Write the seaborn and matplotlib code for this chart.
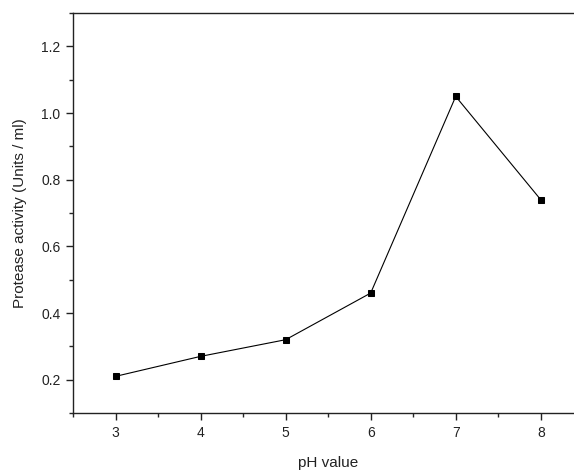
import matplotlib
matplotlib.use("Agg")
import matplotlib.pyplot as plt
import numpy as np
import pandas as pd
import seaborn as sns
from matplotlib.ticker import MultipleLocator

ph_values = [3, 4, 5, 6, 7, 8]
activity = [0.21, 0.27, 0.32, 0.46, 1.05, 0.74]

sns.set_style("ticks")
plt.rcParams["font.family"] = ["Liberation Sans", "DejaVu Sans"]

df = pd.DataFrame({"ph": ph_values, "activity": activity})

fig = plt.figure(figsize=(5.74, 4.71), dpi=100)
ax = fig.add_axes([0.1272, 0.1231, 0.889, 0.849])

sns.lineplot(data=df, x="ph", y="activity", ax=ax, color="black", linewidth=0.8,
             marker="s", markersize=5, markeredgecolor="black", markerfacecolor="black")

ax.set_xlim(2.5, 8.5)
ax.set_ylim(0.1, 1.3)
ax.xaxis.set_major_locator(MultipleLocator(1))
ax.xaxis.set_minor_locator(MultipleLocator(0.5))
ax.yaxis.set_minor_locator(MultipleLocator(0.1))
ax.set_yticks(np.arange(0.2, 1.21, 0.2))
ax.set_yticklabels([f"{v:.1f}" for v in np.arange(0.2, 1.21, 0.2)])

ax.tick_params(which="major", direction="out", length=5, width=1, labelsize=10,
               colors="#222222", pad=4)
ax.tick_params(which="minor", direction="out", length=3, width=1)

for side in ["left", "bottom", "top"]:
    ax.spines[side].set_linewidth(1.0)
    ax.spines[side].set_color("#222222")
ax.spines["right"].set_visible(False)
ax.spines["top"].set_visible(True)

ax.set_xlabel("pH value", fontsize=11, labelpad=12, color="#222222")
ax.set_ylabel("Protease activity (Units / ml)", fontsize=11, labelpad=10, color="#222222")

fig.savefig("out.png", dpi=100)
